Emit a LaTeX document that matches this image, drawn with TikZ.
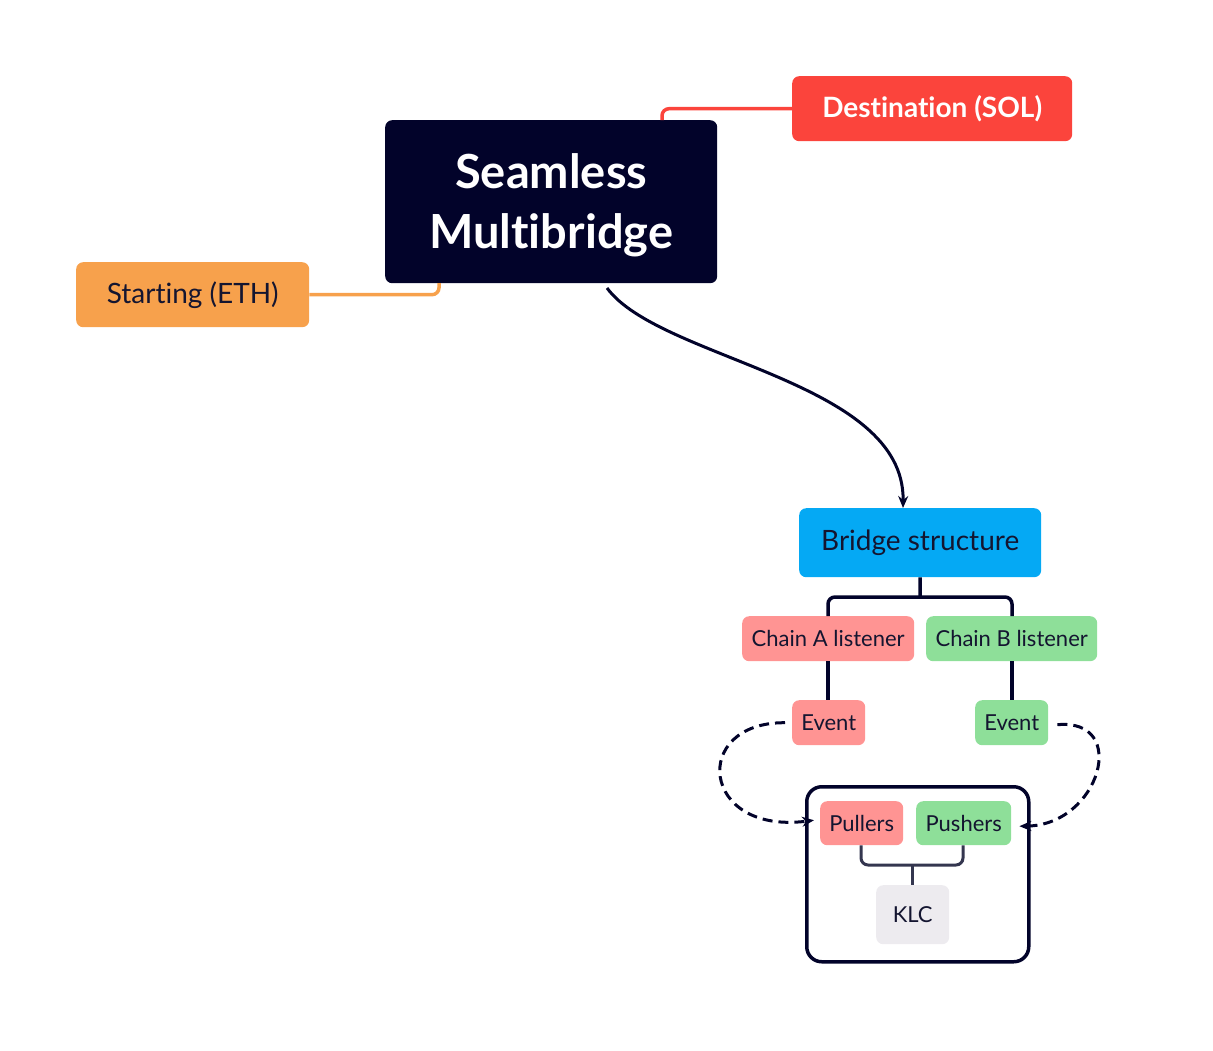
\documentclass[tikz,border=0pt]{standalone}
\usepackage{fontspec}
\setmainfont{Lato}[Ligatures=CommonOff]
\usetikzlibrary{arrows.meta}
\definecolor{navy}{HTML}{02032A}
\definecolor{solred}{HTML}{FB443C}
\definecolor{ethorange}{HTML}{F7A14C}
\definecolor{bridgeblue}{HTML}{05A9F4}
\definecolor{salmon}{HTML}{FF9493}
\definecolor{mint}{HTML}{8EDF99}
\definecolor{klcgrey}{HTML}{EDEBEF}
\definecolor{txt}{HTML}{141530}
\definecolor{brk}{HTML}{34364F}
\tikzset{
  box/.style={rounded corners=7pt, inner sep=0pt, anchor=north west},
  small/.style={box, font=\fontsize{22}{26}\selectfont, text=txt},
  conn/.style={line width=3.5pt, rounded corners=7pt},
  darrow/.style={line width=3pt, navy, dash pattern=on 10pt off 6pt, -{Stealth[length=12pt,width=10pt]}},
}
\begin{document}
\begin{tikzpicture}[x=1pt,y=-1pt]
\useasboundingbox (0,0) rectangle (1213,1050);
% top nodes
\node[box, fill=navy, minimum width=332pt, minimum height=163pt] (main) at (385,120) {};
\node[text=white, align=center, font=\fontsize{47}{60}\selectfont\bfseries, yshift=-4pt] (maintext) at (main.center) {Seamless\\Multibridge};
\node[box, fill=solred, minimum width=280pt, minimum height=65pt, text=white, font=\fontsize{28}{32}\selectfont\bfseries] (dest) at (792,76) {Destination (SOL)};
\node[box, fill=ethorange, minimum width=233pt, minimum height=65pt, text=txt, font=\fontsize{28}{32}\selectfont] (start) at (76,262) {Starting (ETH)};
\coordinate (dtop) at (662,120);
\coordinate (sbot) at (439,283);
\draw[conn, solred] (dest.west) -| (dtop);
\draw[conn, ethorange] (start.east) -| (sbot);
% bridge
\node[box, fill=bridgeblue, minimum width=242pt, minimum height=69pt, text=txt, font=\fontsize{28}{32}\selectfont] (bridge) at (799,508) {Bridge structure};
\coordinate (cstart) at (607,288);
\draw[line width=3pt, navy, -{Stealth[length=12pt,width=10pt]}] (cstart) .. controls (660,360) and (905,380) .. (bridge.north west -| 903,502);
% listeners
\node[small, fill=salmon, minimum width=172pt, minimum height=45pt] (la) at (742,616) {Chain A listener};
\node[small, fill=mint, minimum width=171pt, minimum height=45pt] (lb) at (926,616) {Chain B listener};
\coordinate (bsplit) at (920,597);
\draw[conn, navy] (bridge.south) -- (bsplit);
\draw[conn, navy] (la.north -| 828,0) |- (bsplit) -| (lb.north -| 1012,0);
% events
\node[small, fill=salmon, minimum width=73pt, minimum height=45pt] (ea) at (792,700) {Event};
\node[small, fill=mint, minimum width=73pt, minimum height=45pt] (eb) at (975,700) {Event};
\draw[conn, navy] (la.south -| 828,0) -- (ea.north -| 828,0);
\draw[conn, navy] (lb.south -| 1012,0) -- (eb.north -| 1012,0);
% group box
\node[box, draw=navy, line width=3.5pt, rounded corners=15pt, minimum width=222pt, minimum height=175pt] (grp) at (805,785) {};
\node[small, fill=salmon, minimum width=83pt, minimum height=44pt] (pull) at (820,801) {Pullers};
\node[small, fill=mint, minimum width=95pt, minimum height=44pt] (push) at (916,801) {Pushers};
\node[small, fill=klcgrey, minimum width=73pt, minimum height=59pt] (klc) at (876,885) {KLC};
\coordinate (ksplit) at (912,865);
\draw[conn, brk, line width=3pt] (pull.south -| 861,0) |- (ksplit) -| (push.south -| 963,0);
\draw[conn, brk, line width=3pt] (ksplit) -- (klc.north -| 912,0);
% dashed
\draw[darrow] ([xshift=-7pt]ea.west) .. controls (690,722) and (700,835) .. ([xshift=-6pt,yshift=3pt]pull.west);
\draw[darrow] ([xshift=9pt,yshift=-2pt]eb.east) .. controls (1130,718) and (1100,825) .. ([xshift=8pt,yshift=-3pt]push.east);
\end{tikzpicture}
\end{document}
